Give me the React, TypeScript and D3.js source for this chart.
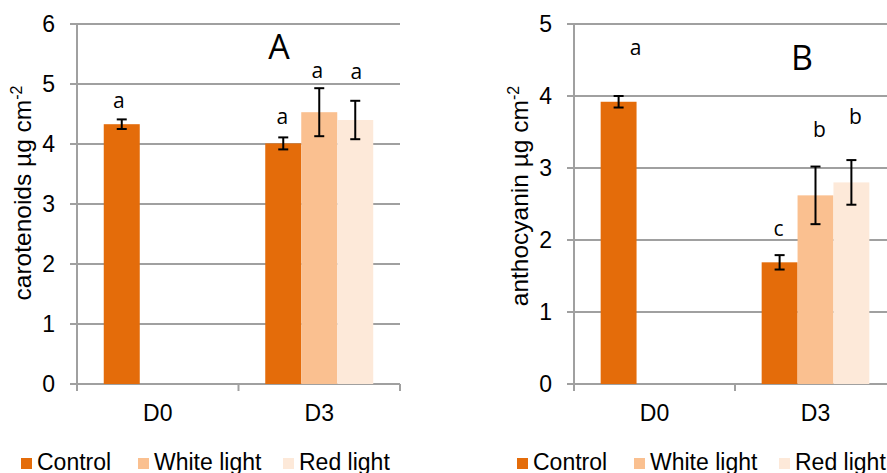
import React from 'react'
import { scaleBand, scaleLinear } from 'd3'

const categories = ['D0', 'D3']
const seriesNames = ['Control', 'White light', 'Red light']
const seriesColors = ['#E46C0A', '#FAC090', '#FDE9D9']

// panel A: carotenoids
const carotMean = [
  [4.33, 4.01],
  [null, 4.53],
  [null, 4.40],
]
const carotErr = [
  [0.08, 0.1],
  [null, 0.4],
  [null, 0.32],
]
const carotLetters = [
  ['a', 'a'],
  [null, 'a'],
  [null, 'a'],
]
const carotLetterAt = [
  [4.6, 4.33],
  [null, 5.1],
  [null, 5.08],
]
const carotTicks = [0, 1, 2, 3, 4, 5, 6]

// panel B: anthocyanin
const anthoMean = [
  [3.92, 1.69],
  [null, 2.62],
  [null, 2.8],
]
const anthoErr = [
  [0.08, 0.1],
  [null, 0.4],
  [null, 0.31],
]
const anthoLetters = [
  ['a', 'c'],
  [null, 'b'],
  [null, 'b'],
]
const anthoLetterAt = [
  [4.57, 2.05],
  [null, 3.43],
  [null, 3.61],
]
const anthoTicks = [0, 1, 2, 3, 4, 5]

const W = 887
const H = 473
const GRID = '#a0a0a0'
const SANS = '"Liberation Sans", Arial, sans-serif'
const LETTER_FONT = '"Open Sans", "Noto Sans", sans-serif'

type PanelProps = {
  left: number
  right: number
  yMax: number
  ticks: number[]
  mean: (number | null)[][]
  err: (number | null)[][]
  letters: (string | null)[][]
  letterAt: (number | null)[][]
  letterDx: number[][]
  title: string
  labelX: number
  labelY: number
  tag: string
  tagX: number
  tagY: number
  legendX: number[]
}

const Panel = (p: PanelProps) => {
  const top = 24
  const bottom = 384
  const x = scaleBand<string>().domain(categories).range([p.left, p.right]).padding(0)
  const inner = scaleBand<string>()
    .domain(seriesNames)
    .range([0, x.bandwidth()])
    .paddingInner(0)
    .paddingOuter(0.743)
  const y = scaleLinear().domain([0, p.yMax]).range([bottom, top])
  const bw = inner.bandwidth()

  return (
    <g>
      {/* gridlines */}
      {p.ticks.map(t => (
        <line key={t} x1={p.left - 7} x2={p.right} y1={y(t)} y2={y(t)} stroke={GRID} strokeWidth={2} />
      ))}
      <line x1={p.left} x2={p.left} y1={top} y2={bottom + 7} stroke={GRID} strokeWidth={2} />
      {categories.map(c => (
        <line key={c} x1={(x(c) as number) + x.bandwidth()} x2={(x(c) as number) + x.bandwidth()}
          y1={bottom} y2={bottom + 7} stroke={GRID} strokeWidth={2} />
      ))}
      {/* y tick labels */}
      {p.ticks.map(t => (
        <text key={t} x={p.left - 22} y={y(t)} dy="0.36em" textAnchor="end"
          fontFamily={SANS} fontSize={23} fill="#000">{t}</text>
      ))}
      {/* x labels */}
      {categories.map(c => (
        <text key={c} x={(x(c) as number) + x.bandwidth() / 2} y={421} textAnchor="middle"
          fontFamily={SANS} fontSize={23} fill="#000">{c}</text>
      ))}
      {/* bars */}
      {seriesNames.map((s, si) =>
        categories.map((c, ci) => {
          const v = p.mean[si][ci]
          if (v === null) return null
          const bx = (x(c) as number) + (inner(s) as number)
          return <rect key={s + c} x={bx} y={y(v)} width={bw} height={bottom - y(v)} fill={seriesColors[si]} />
        })
      )}
      {/* error bars */}
      {seriesNames.map((s, si) =>
        categories.map((c, ci) => {
          const v = p.mean[si][ci]
          const e = p.err[si][ci]
          if (v === null || e === null) return null
          const cx = (x(c) as number) + (inner(s) as number) + bw / 2
          return (
            <g key={s + c} stroke="#000" strokeWidth={2}>
              <line x1={cx} x2={cx} y1={y(v + e)} y2={y(v - e)} />
              <line x1={cx - 5} x2={cx + 5} y1={y(v + e)} y2={y(v + e)} />
              <line x1={cx - 5} x2={cx + 5} y1={y(v - e)} y2={y(v - e)} />
            </g>
          )
        })
      )}
      {/* significance letters */}
      {seriesNames.map((s, si) =>
        categories.map((c, ci) => {
          const l = p.letters[si][ci]
          const at = p.letterAt[si][ci]
          if (l === null || at === null) return null
          const cx = (x(c) as number) + (inner(s) as number) + bw / 2 + p.letterDx[si][ci]
          return (
            <text key={s + c} x={cx} y={y(at)} textAnchor="middle" fontFamily={LETTER_FONT}
              fontSize={21} fill="#000">{l}</text>
          )
        })
      )}
      <text x={p.tagX} y={p.tagY} textAnchor="middle" fontFamily={LETTER_FONT} fontSize={34} fill="#000">{p.tag}</text>
      {/* axis title */}
      <text transform={`translate(${p.labelX},${p.labelY}) rotate(-90)`} textAnchor="middle"
        fontFamily={SANS} fontSize={24.5} fill="#000">
        {p.title}
        <tspan dy="-0.55em" fontSize={16}>-2</tspan>
      </text>
      {/* legend */}
      {seriesNames.map((s, si) => (
        <g key={s}>
          <rect x={p.legendX[si]} y={458} width={11} height={11} fill={seriesColors[si]} />
          <text x={p.legendX[si] + 16} y={470} fontFamily={SANS} fontSize={23} fill="#000">{s}</text>
        </g>
      ))}
    </g>
  )
}

export default function App() {
  return (
    <svg width={W} height={H} style={{ position: 'absolute', left: 0, top: 0, background: '#fff' }}>
      <rect width={W} height={H} fill="#fff" />
      <Panel left={77} right={400} yMax={6} ticks={carotTicks} mean={carotMean} err={carotErr}
        letters={carotLetters} letterAt={carotLetterAt} letterDx={[[-3, -1], [0, -2], [0, 1]]}
        title="carotenoids µg cm" labelX={31} labelY={193}
        tag="A" tagX={279} tagY={59} legendX={[21, 138, 283]} />
      <Panel left={574} right={896} yMax={5} ticks={anthoTicks} mean={anthoMean} err={anthoErr}
        letters={anthoLetters} letterAt={anthoLetterAt} letterDx={[[17, -1], [0, 4], [0, 4]]}
        title="anthocyanin µg cm" labelX={528} labelY={196}
        tag="B" tagX={802} tagY={70} legendX={[517, 634, 779]} />
    </svg>
  )
}
